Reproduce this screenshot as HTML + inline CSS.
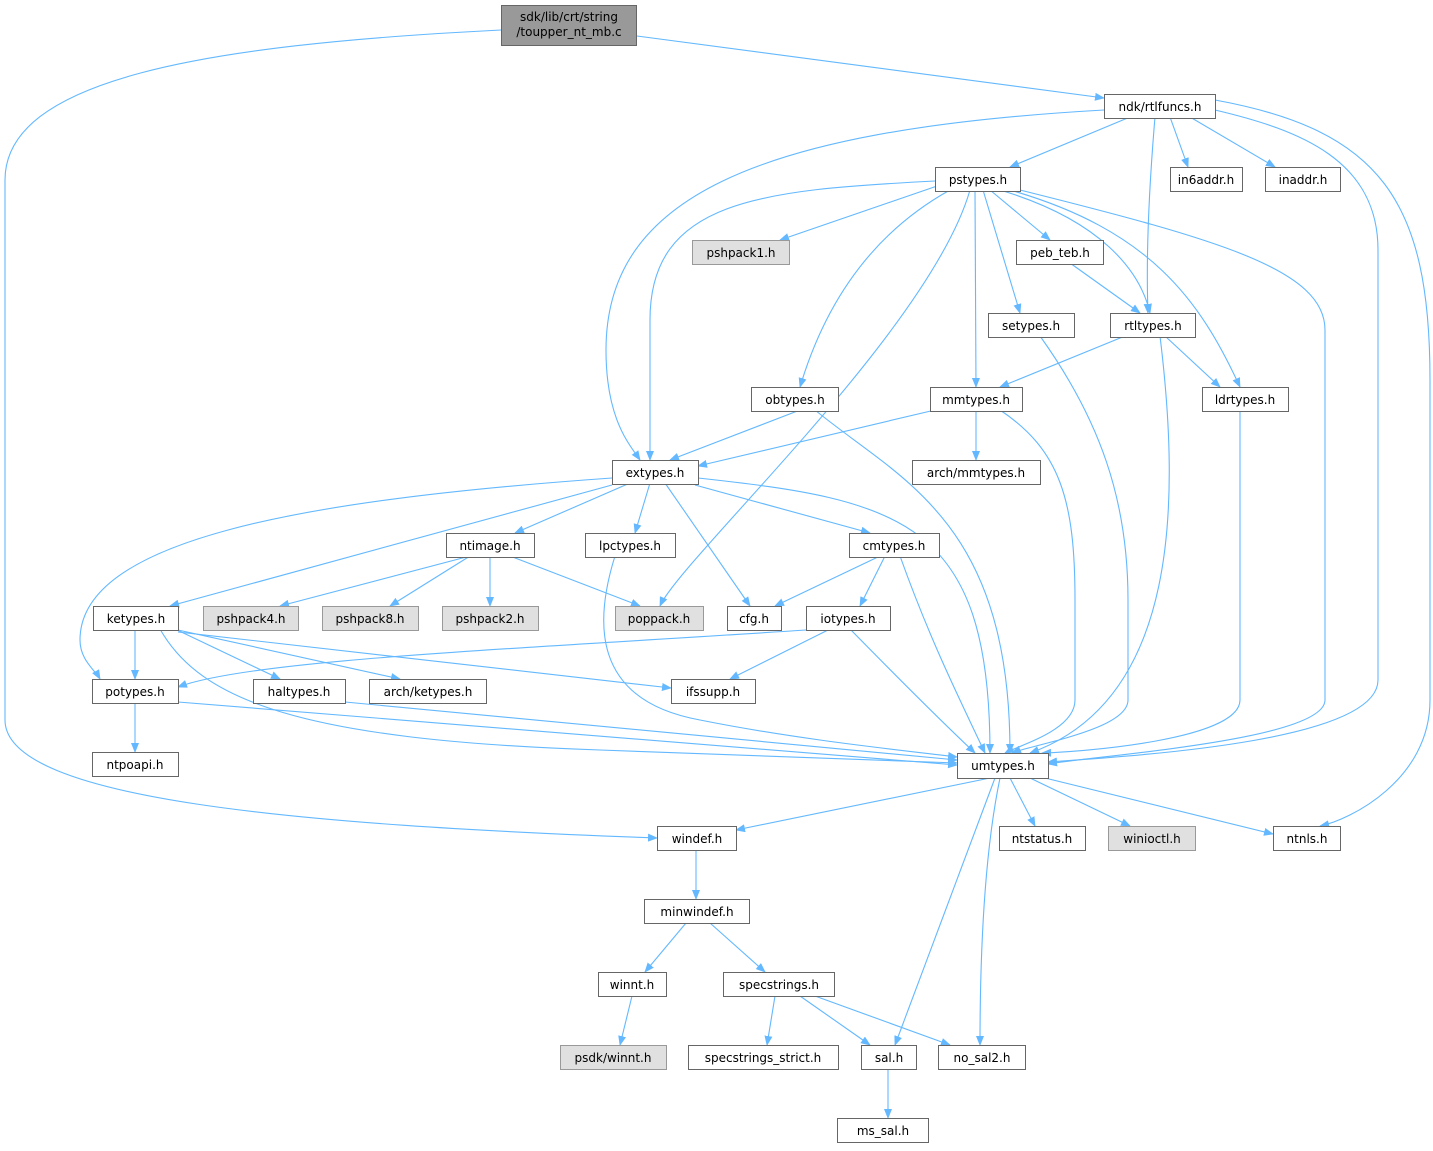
<!DOCTYPE html>
<html><head><meta charset="utf-8"><style>
html,body{margin:0;padding:0;background:#fff}
svg{display:block}
text{font-family:"DejaVu Sans","Liberation Sans",sans-serif;font-size:12px;fill:#000;text-anchor:middle}
.e{fill:none;stroke:#63b8ff;stroke-width:1.1}
.n{fill:#fff;stroke:#666;stroke-width:1}
.g{fill:#e0e0e0;stroke:#999;stroke-width:1}
</style></head><body>
<svg width="1433" height="1151" viewBox="0 0 1433 1151" xmlns="http://www.w3.org/2000/svg">
<defs><marker id="a" markerWidth="10" markerHeight="8" refX="9" refY="4" orient="auto" markerUnits="userSpaceOnUse"><path d="M0,0 L10,4 L0,8 z" fill="#63b8ff"/></marker></defs>
<g class="e" marker-end="url(#a)">
<path d="M637,36 L1104,98"/>
<path d="M501,30 C200,45 5,80 5,180 L5,720 C5,800 300,825 657,838"/>
<path d="M1130,117 L1010,167"/>
<path d="M1170,117 L1188,167"/>
<path d="M1190,117 L1275,167"/>
<path d="M1155,117 C1148,200 1146,260 1148,313"/>
<path d="M1104,110 C750,130 606,200 606,350 C606,420 630,445 640,460"/>
<path d="M1215,110 C1300,130 1378,160 1378,250 L1378,680 C1378,740 1150,755 1048,762"/>
<path d="M1215,100 C1380,130 1430,200 1430,380 L1430,700 C1430,780 1350,820 1320,826"/>
<path d="M940,185 L780,240"/>
<path d="M935,181 C760,190 650,200 650,320 L650,460"/>
<path d="M950,190 C860,240 820,320 800,387"/>
<path d="M970,190 C930,330 680,560 660,606"/>
<path d="M975,190 L976,387"/>
<path d="M983,190 L1020,313"/>
<path d="M990,190 L1050,240"/>
<path d="M1000,190 C1100,220 1140,270 1150,313"/>
<path d="M1010,190 C1150,230 1200,300 1240,387"/>
<path d="M1020,190 C1220,240 1325,270 1325,330 L1325,700 C1325,740 1100,755 1048,764"/>
<path d="M1070,263 L1140,313"/>
<path d="M1040,336 C1100,420 1128,500 1128,600 L1128,700 C1128,730 1030,745 1012,753"/>
<path d="M1125,336 L1000,387"/>
<path d="M1165,336 L1220,387"/>
<path d="M1160,336 C1180,500 1180,700 1030,753"/>
<path d="M1240,410 L1240,700 C1240,740 1080,752 1042,753"/>
<path d="M800,410 L670,460"/>
<path d="M815,410 C900,480 1010,520 1010,753"/>
<path d="M935,410 L698,466"/>
<path d="M976,410 L976,460"/>
<path d="M1000,410 C1060,450 1075,500 1075,600 L1075,700 C1075,730 1020,745 1005,753"/>
<path d="M630,483 L515,533"/>
<path d="M650,483 L635,533"/>
<path d="M695,485 L870,533"/>
<path d="M665,483 L750,606"/>
<path d="M612,485 L170,606"/>
<path d="M612,478 C300,500 80,540 80,640 C80,660 95,670 100,679"/>
<path d="M698,478 C900,500 990,520 990,753"/>
<path d="M470,556 L280,606"/>
<path d="M470,556 L390,606"/>
<path d="M490,556 L490,606"/>
<path d="M510,556 L640,606"/>
<path d="M615,556 C595,620 590,700 700,720 C800,740 900,750 957,757"/>
<path d="M880,556 L775,606"/>
<path d="M885,556 L860,606"/>
<path d="M900,556 C930,640 960,700 985,753"/>
<path d="M135,629 L135,679"/>
<path d="M175,629 L280,679"/>
<path d="M178,630 L400,679"/>
<path d="M178,632 L671,688"/>
<path d="M160,629 C200,700 300,740 600,750 L957,763"/>
<path d="M806,630 C500,650 250,660 178,687"/>
<path d="M830,629 L730,679"/>
<path d="M850,629 C900,680 940,720 975,753"/>
<path d="M345,702 L957,760"/>
<path d="M135,702 L135,752"/>
<path d="M178,702 L957,765"/>
<path d="M990,778 L736,830"/>
<path d="M1010,778 L1035,826"/>
<path d="M1030,778 L1130,826"/>
<path d="M1045,778 L1273,834"/>
<path d="M995,778 L895,1045"/>
<path d="M1000,778 C985,850 980,950 980,1045"/>
<path d="M696,850 L696,899"/>
<path d="M686,923 L645,972"/>
<path d="M710,923 L765,972"/>
<path d="M632,996 L620,1045"/>
<path d="M775,996 L767,1045"/>
<path d="M800,996 L870,1045"/>
<path d="M815,996 L950,1045"/>
<path d="M888,1069 L888,1118"/>
</g>
<rect x="501.5" y="5.5" width="135" height="40" fill="#999" stroke="#666"/>
<text x="569" y="21">sdk/lib/crt/string</text><text x="569" y="36">/toupper_nt_mb.c</text>
<g>
<rect class="n" x="1104.5" y="94.5" width="111" height="24"/><text x="1160" y="111">ndk/rtlfuncs.h</text>
<rect class="n" x="935.5" y="167.5" width="85" height="24"/><text x="978" y="184">pstypes.h</text>
<rect class="n" x="1170.5" y="167.5" width="72" height="24"/><text x="1206" y="184">in6addr.h</text>
<rect class="n" x="1265.5" y="167.5" width="75" height="24"/><text x="1303" y="184">inaddr.h</text>
<rect class="g" x="692.5" y="240.5" width="97" height="24"/><text x="741" y="257">pshpack1.h</text>
<rect class="n" x="1016.5" y="240.5" width="87" height="24"/><text x="1060" y="257">peb_teb.h</text>
<rect class="n" x="988.5" y="313.5" width="86" height="24"/><text x="1031" y="330">setypes.h</text>
<rect class="n" x="1110.5" y="313.5" width="85" height="24"/><text x="1153" y="330">rtltypes.h</text>
<rect class="n" x="751.5" y="387.5" width="87" height="24"/><text x="795" y="404">obtypes.h</text>
<rect class="n" x="930.5" y="387.5" width="92" height="24"/><text x="976" y="404">mmtypes.h</text>
<rect class="n" x="1202.5" y="387.5" width="86" height="24"/><text x="1245" y="404">ldrtypes.h</text>
<rect class="n" x="612.5" y="460.5" width="86" height="24"/><text x="655" y="477">extypes.h</text>
<rect class="n" x="912.5" y="460.5" width="128" height="24"/><text x="976" y="477">arch/mmtypes.h</text>
<rect class="n" x="446.5" y="533.5" width="88" height="24"/><text x="490" y="550">ntimage.h</text>
<rect class="n" x="585.5" y="533.5" width="90" height="24"/><text x="630" y="550">lpctypes.h</text>
<rect class="n" x="849.5" y="533.5" width="90" height="24"/><text x="894" y="550">cmtypes.h</text>
<rect class="n" x="93.5" y="606.5" width="85" height="24"/><text x="136" y="623">ketypes.h</text>
<rect class="g" x="203.5" y="606.5" width="95" height="24"/><text x="251" y="623">pshpack4.h</text>
<rect class="g" x="322.5" y="606.5" width="96" height="24"/><text x="370" y="623">pshpack8.h</text>
<rect class="g" x="442.5" y="606.5" width="96" height="24"/><text x="490" y="623">pshpack2.h</text>
<rect class="g" x="615.5" y="606.5" width="88" height="24"/><text x="659" y="623">poppack.h</text>
<rect class="n" x="727.5" y="606.5" width="54" height="24"/><text x="754" y="623">cfg.h</text>
<rect class="n" x="806.5" y="606.5" width="84" height="24"/><text x="848" y="623">iotypes.h</text>
<rect class="n" x="92.5" y="679.5" width="86" height="24"/><text x="135" y="696">potypes.h</text>
<rect class="n" x="253.5" y="679.5" width="92" height="24"/><text x="299" y="696">haltypes.h</text>
<rect class="n" x="369.5" y="679.5" width="117" height="24"/><text x="428" y="696">arch/ketypes.h</text>
<rect class="n" x="671.5" y="679.5" width="84" height="24"/><text x="713" y="696">ifssupp.h</text>
<rect class="n" x="92.5" y="752.5" width="86" height="24"/><text x="135" y="769">ntpoapi.h</text>
<rect class="n" x="957.5" y="753.5" width="91" height="25"/><text x="1003" y="770">umtypes.h</text>
<rect class="n" x="657.5" y="826.5" width="79" height="24"/><text x="697" y="843">windef.h</text>
<rect class="n" x="999.5" y="826.5" width="86" height="24"/><text x="1042" y="843">ntstatus.h</text>
<rect class="g" x="1108.5" y="826.5" width="87" height="24"/><text x="1152" y="843">winioctl.h</text>
<rect class="n" x="1273.5" y="826.5" width="67" height="24"/><text x="1307" y="843">ntnls.h</text>
<rect class="n" x="644.5" y="899.5" width="105" height="24"/><text x="697" y="916">minwindef.h</text>
<rect class="n" x="598.5" y="972.5" width="68" height="24"/><text x="632" y="989">winnt.h</text>
<rect class="n" x="723.5" y="972.5" width="111" height="24"/><text x="779" y="989">specstrings.h</text>
<rect class="g" x="560.5" y="1045.5" width="106" height="24"/><text x="613" y="1062">psdk/winnt.h</text>
<rect class="n" x="688.5" y="1045.5" width="150" height="24"/><text x="763" y="1062">specstrings_strict.h</text>
<rect class="n" x="861.5" y="1045.5" width="55" height="24"/><text x="889" y="1062">sal.h</text>
<rect class="n" x="938.5" y="1045.5" width="87" height="24"/><text x="982" y="1062">no_sal2.h</text>
<rect class="n" x="837.5" y="1118.5" width="91" height="24"/><text x="883" y="1135">ms_sal.h</text>
</g>
</svg>
</body></html>
